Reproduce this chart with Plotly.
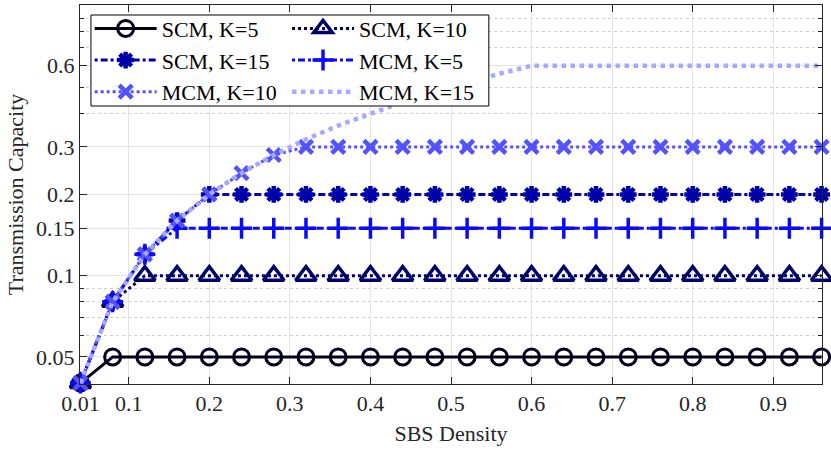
import plotly.graph_objects as go

# SBS density sample points
density = [0.04, 0.08, 0.12, 0.16, 0.20, 0.24, 0.28, 0.32, 0.36, 0.40, 0.44, 0.48,
           0.52, 0.56, 0.60, 0.64, 0.68, 0.72, 0.76, 0.80, 0.84, 0.88, 0.92, 0.96]

# transmission capacity
scm_k5 = [0.04] + [0.05] * 23
scm_k10 = [0.04, 0.08] + [0.10] * 22
scm_k15 = [0.04, 0.08, 0.12, 0.16] + [0.20] * 20
mcm_k5 = [0.04, 0.08, 0.12] + [0.15] * 21
mcm_k10 = [0.04, 0.08, 0.12, 0.16, 0.20, 0.24, 0.28] + [0.30] * 17
mcm_k15 = [0.04, 0.08, 0.12, 0.16, 0.20, 0.24, 0.28, 0.32, 0.36, 0.40, 0.44, 0.48,
           0.52, 0.56] + [0.60] * 10

x_tickvals = [0.04, 0.1, 0.2, 0.3, 0.4, 0.5, 0.6, 0.7, 0.8, 0.9]
x_ticktext = ['0.01', '0.1', '0.2', '0.3', '0.4', '0.5', '0.6', '0.7', '0.8', '0.9']
y_tickvals = [0.05, 0.1, 0.15, 0.2, 0.3, 0.6]
y_ticktext = ['0.05', '0.1', '0.15', '0.2', '0.3', '0.6']
y_minor = [0.06, 0.07, 0.08, 0.09, 0.4, 0.5, 0.7, 0.8, 0.9]

FONT = 'Liberation Serif'
DASHDOT = '3px,3px,7px,3px'

series = [
    # name, values, colour, dash, width, marker symbol, marker size, marker line width, legend
    ('SCM, K=5', scm_k5, '#00001a', 'solid', 3, 'circle-open', 16, 3, 'legend'),
    ('SCM, K=10', scm_k10, '#000066', 'dot', 3, 'triangle-up-open', 18, 3.5, 'legend2'),
    ('SCM, K=15', scm_k15, '#0000a8', DASHDOT, 3, 'asterisk-open', 14, 4.5, 'legend'),
    ('MCM, K=5', mcm_k5, '#0a0aff', DASHDOT, 3, 'cross-thin-open', 15, 3.5, 'legend2'),
    ('MCM, K=10', mcm_k10, '#5252ff', 'dot', 3, 'x-thin-open', 13, 4.5, 'legend'),
    ('MCM, K=15', mcm_k15, '#a8a8ff', 'dot', 4.5, None, 0, 0, 'legend2'),
]

fig = go.Figure()
for name, vals, col, dash, lw, sym, ms, mlw, leg in series:
    if sym is None:
        mode = 'lines'
        marker = None
    else:
        mode = 'lines+markers'
        marker = dict(symbol=sym, size=ms, color=col, line=dict(color=col, width=mlw))
    fig.add_trace(go.Scatter(x=density, y=vals, name=name, mode=mode,
                             line=dict(color=col, width=lw, dash=dash),
                             marker=marker, cliponaxis=False, legend=leg))

# legend frame around both columns
fig.add_shape(type='rect', xref='paper', yref='paper',
              x0=0.0148, x1=0.551, y0=0.7335, y1=0.9736,
              fillcolor='white', line=dict(color='black', width=1), layer='above')

legend_style = dict(bgcolor='rgba(0,0,0,0)', borderwidth=0,
                    font=dict(family=FONT, size=22, color='black'),
                    xanchor='left', yanchor='top', itemwidth=62,
                    tracegroupgap=0, itemclick=False)

fig.update_layout(
    width=831, height=452,
    margin=dict(l=80, r=9, t=5, b=68),
    paper_bgcolor='white', plot_bgcolor='white',
    font=dict(family=FONT, size=22, color='#262626'),
    showlegend=True,
    legend=dict(x=0.013, y=0.993, **legend_style),
    legend2=dict(x=0.279, y=0.993, **legend_style),
    xaxis=dict(
        range=[0.0395, 0.9605], tickvals=x_tickvals, ticktext=x_ticktext,
        tickfont=dict(size=22),
        title=dict(text='SBS Density', font=dict(size=22), standoff=10),
        automargin=False,
        showgrid=True, gridcolor='#e3e3e3', gridwidth=1,
        ticks='inside', ticklen=7, tickcolor='#262626',
        showline=True, linecolor='#262626', linewidth=1, mirror='ticks',
        zeroline=False,
    ),
    yaxis=dict(
        type='log', range=[-1.4012, 0.003], tickvals=y_tickvals, ticktext=y_ticktext,
        tickfont=dict(size=22),
        title=dict(text='Transmission Capacity', font=dict(size=22), standoff=6),
        automargin=False,
        showgrid=True, gridcolor='#e3e3e3', gridwidth=1,
        ticks='inside', ticklen=7, tickcolor='#262626',
        showline=True, linecolor='#262626', linewidth=1, mirror='ticks',
        zeroline=False,
        minor=dict(tickmode='array', tickvals=y_minor, showgrid=True,
                   gridcolor='#cfcfcf', griddash='dot', gridwidth=1,
                   ticks='inside', ticklen=4, tickcolor='#262626'),
    ),
)

# drop the browser's default page margin so the figure sits at the window origin
fig.write_html('out.html', config={'displayModeBar': False},
               post_script="document.body.style.margin='0';")
